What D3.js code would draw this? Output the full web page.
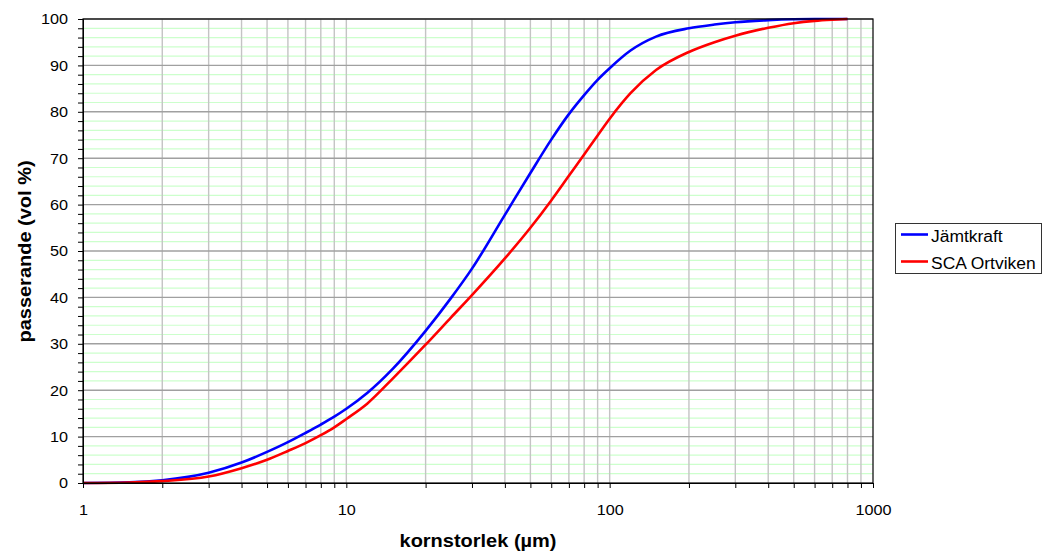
<!DOCTYPE html>
<html>
<head>
<meta charset="utf-8">
<script src="https://cdn.jsdelivr.net/npm/d3@7"></script>
<style>
  body { margin: 0; background: #fff; }
  text { font-family: "Liberation Sans", Arial, sans-serif; fill: #000; }
</style>
</head>
<body>
<svg id="chart" width="1042" height="552"></svg>
<script>
// grain size (µm) and passing (vol %)
const sizes = [1, 1.5, 2, 3, 4, 5, 6, 7, 8, 9, 10, 12, 15, 20, 25, 30, 40, 50, 60, 70, 80, 90, 100, 120, 150, 200, 250, 300, 400, 500, 600, 700, 800]
const jamtkraft = [0, 0.15, 0.6, 2.2, 4.4, 6.7, 8.8, 10.8, 12.6, 14.3, 16.0, 19.4, 24.6, 32.8, 39.9, 46.2, 57.8, 66.8, 74.0, 79.5, 83.6, 86.9, 89.4, 93.2, 96.2, 98.0, 98.8, 99.3, 99.75, 99.95, 100, 100, 100]
const ortviken = [0, 0.1, 0.4, 1.4, 3.2, 5.0, 6.9, 8.6, 10.3, 12.0, 13.8, 17.1, 22.5, 29.8, 35.7, 40.5, 48.4, 55.0, 60.9, 66.2, 70.8, 74.9, 78.5, 84.0, 89.0, 92.9, 95.0, 96.4, 98.1, 99.1, 99.6, 99.85, 100]
const seriesNames = ['Jämtkraft', 'SCA Ortviken']
const seriesColors = ['#0000ff', '#ff0000']
const xTickLabels = [1, 10, 100, 1000]
const yTickLabels = [0, 10, 20, 30, 40, 50, 60, 70, 80, 90, 100]

const svg = d3.select('#chart')
const pL = 83, pR = 873, pT = 19, pB = 483

const x = d3.scaleLog().domain([1, 1000]).range([pL, pR])
const y = d3.scaleLinear().domain([0, 100]).range([pB, pT])

// every 1..9 step of each decade
const xMinor = []
for (let p = 0; p < 3; p++) for (let k = 1; k <= 9; k++) xMinor.push(k * Math.pow(10, p))
xMinor.push(1000)

// the original text is drawn a bit wider than Arial
const stretch = (sel, f) => sel.each(function () {
    const w = this.getComputedTextLength()
    if (w > 0) d3.select(this).attr('textLength', w * f).attr('lengthAdjust', 'spacingAndGlyphs')
})

const grid = svg.append('g')
// green minor horizontal lines
grid.selectAll('line.gm').data(d3.range(0, 101, 2).filter(v => v % 10)).join('line')
    .attr('x1', pL).attr('x2', pR)
    .attr('y1', d => y(d)).attr('y2', d => y(d))
    .attr('stroke', '#ccffcc').attr('stroke-width', 1.2)
// vertical gray lines
grid.selectAll('line.v').data(xMinor.filter(v => v > 1 && v < 1000)).join('line')
    .attr('x1', d => x(d)).attr('x2', d => x(d))
    .attr('y1', pT).attr('y2', pB)
    .attr('stroke', '#c4c4c4').attr('stroke-width', 1.4)
// major horizontal
grid.selectAll('line.h').data(yTickLabels.slice(1)).join('line')
    .attr('x1', pL).attr('x2', pR)
    .attr('y1', d => y(d)).attr('y2', d => y(d))
    .attr('stroke', '#a0a0a0').attr('stroke-width', 1.4)

// curves
const line = d3.line()
    .x((d, i) => x(sizes[i]))
    .y(d => y(d))
    .curve(d3.curveMonotoneX)

;[jamtkraft, ortviken].forEach((s, i) => {
    svg.append('path').datum(s)
        .attr('d', line)
        .attr('fill', 'none')
        .attr('stroke', seriesColors[i])
        .attr('stroke-width', 2.6)
})

// frame
svg.append('rect')
    .attr('x', pL).attr('y', pT)
    .attr('width', pR - pL).attr('height', pB - pT)
    .attr('fill', 'none').attr('stroke', '#000').attr('stroke-width', 1.2)

// y axis
const yAxis = d3.axisLeft(y).tickValues(d3.range(0, 101, 2)).tickSize(5)
    .tickFormat(d => yTickLabels.includes(d) ? d : '')
const gy = svg.append('g').attr('transform', `translate(${pL},0)`).call(yAxis)
gy.select('.domain').attr('stroke', '#000')
gy.selectAll('.tick line').attr('stroke', '#000')
gy.selectAll('.tick text').attr('font-size', 15).attr('x', -15)
    .attr('font-family', '"Liberation Sans", Arial, sans-serif')
    .call(stretch, 1.08)

// x axis
const xAxis = d3.axisBottom(x).tickValues(xMinor).tickSize(5)
    .tickFormat(d => xTickLabels.includes(d) ? d : '')
const gx = svg.append('g').attr('transform', `translate(0,${pB})`).call(xAxis)
gx.select('.domain').attr('stroke', '#000')
gx.selectAll('.tick line').attr('stroke', '#000')
gx.selectAll('.tick text').attr('font-size', 15).attr('y', 21)
    .attr('font-family', '"Liberation Sans", Arial, sans-serif')
    .call(stretch, 1.08)

// axis titles
svg.append('text')
    .attr('x', 478).attr('y', 547)
    .attr('text-anchor', 'middle')
    .attr('font-size', 18.5).attr('font-weight', 'bold')
    .text('kornstorlek (µm)')
    .call(stretch, 1.08)

svg.append('text')
    .attr('transform', 'translate(31,251.5) rotate(-90)')
    .attr('text-anchor', 'middle')
    .attr('font-size', 18.5).attr('font-weight', 'bold')
    .text('passerande (vol %)')
    .call(stretch, 1.08)

// legend
const lg = svg.append('g')
lg.append('rect')
    .attr('x', 895.5).attr('y', 223.5).attr('width', 146).attr('height', 50)
    .attr('fill', '#fff').attr('stroke', '#333').attr('stroke-width', 1)
seriesNames.forEach((name, i) => {
    const yy = 234.5 + i * 27
    lg.append('line')
        .attr('x1', 901).attr('x2', 928).attr('y1', yy).attr('y2', yy)
        .attr('stroke', seriesColors[i]).attr('stroke-width', 2.6)
    lg.append('text')
        .attr('x', 931).attr('y', yy + 7.5)
        .attr('font-size', 16)
        .text(name)
        .call(stretch, 1.09)
})
</script>
</body>
</html>
